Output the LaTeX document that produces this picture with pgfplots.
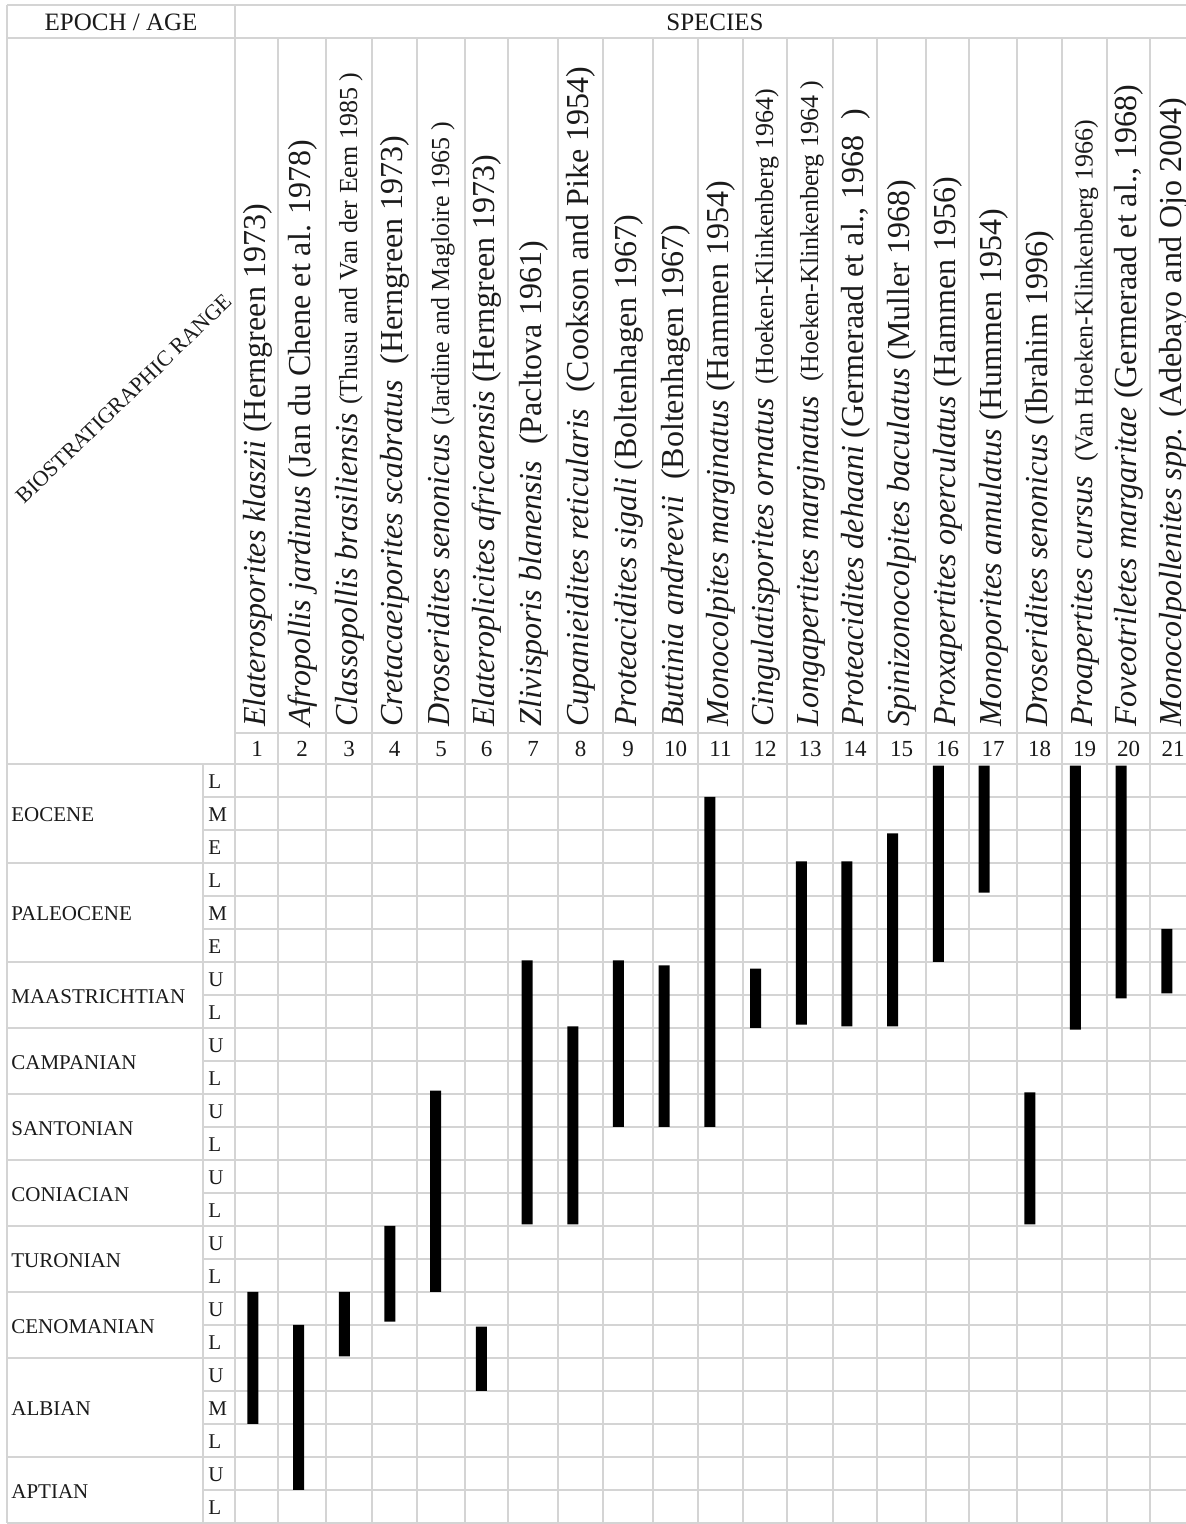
\documentclass[border=0pt]{standalone}
\usepackage{pgfplots}
\pgfplotsset{compat=1.18}
\usepackage{pgfplotstable}
\usepackage{fontspec}
\setmainfont{Liberation Serif}
\definecolor{gridc}{HTML}{D4D4D4}
\definecolor{txt}{HTML}{1A1A1A}

% species index, lower and upper limit of range (row units, 0 = base of Lower Aptian, 23 = top of Late Eocene)
\pgfplotstableread{
x lo hi
1 3.0 7.0
2 1.0 6.0
3 5.05 7.0
4 6.1 9.0
5 7.0 13.1
6 4.0 5.95
7 9.05 17.05
8 9.05 15.05
9 12.0 17.05
10 12.0 16.9
11 12.0 22.0
12 15.0 16.8
13 15.1 20.05
14 15.05 20.05
15 15.05 20.9
16 17.0 22.95
17 19.1 22.95
18 9.05 13.05
19 14.95 22.95
20 15.9 22.95
21 16.05 18.0
}\ranges

\newcommand{\spn}[4]{%
  \node[rotate=90, anchor=base west, inner sep=0pt, text=txt,
        font=\fontsize{16}{18}\selectfont] at (#1+8,727)
        {\textit{#2} {\fontsize{#4}{18}\selectfont #3}};}

\begin{document}
\begin{tikzpicture}
\begin{scope}[x=0.5pt,y=-0.5pt,shift={(0,762pt)}]
  \tikzset{gl/.style={draw=gridc, line width=1.4pt}}
  % frame and header lines
  \draw[gl] (7,5) -- (1186,5);
  \draw[gl] (7,38) -- (1186,38);
  \draw[gl] (7,5) -- (7,1523);
  \draw[gl] (235,5) -- (235,1523);
  \draw[gl] (203,764) -- (203,1523);
  \foreach \xx in {278,326,372,417,465,508,558,603,653,698,743,787,833,877,926,969,1017,1062,1107,1150}
    \draw[gl] (\xx,38) -- (\xx,1523);
  \draw[gl] (235,733) -- (1186,733);
  \draw[gl] (7,764) -- (1186,764);
  \foreach \i in {3,6,8,10,12,14,16,18,21,23}
    \draw[gl] (7,{764+33*\i}) -- (1186,{764+33*\i});
  \foreach \i in {1,2,4,5,7,9,11,13,15,17,19,20,22}
    \draw[gl] (203,{764+33*\i}) -- (1186,{764+33*\i});

  % header texts
  \node[text=txt, font=\fontsize{12.5}{15}\selectfont] at (121,22) {EPOCH / AGE};
  \node[text=txt, font=\fontsize{12.5}{15}\selectfont] at (715,22) {SPECIES};
  \node[text=txt, rotate=44, inner sep=0pt, font=\fontsize{11}{13}\selectfont] at (124,399) {BIOSTRATIGRAPHIC RANGE};

  % species names
  \spn{257}{Elaterosporites klaszii}{(Herngreen 1973)}{16}
  \spn{302}{Afropollis jardinus}{(Jan du Chene et al. 1978)}{16}
  \spn{349}{Classopollis brasiliensis}{(Thusu and Van der Eem 1985 )}{13}
  \spn{394.5}{Cretacaeiporites scabratus}{\ (Herngreen 1973)}{16}
  \spn{441}{Droseridites senonicus}{(Jardine and Magloire 1965 )}{13}
  \spn{486.5}{Elateroplicites africaensis}{(Herngreen 1973)}{16}
  \spn{533}{Zlivisporis blanensis}{\ (Pacltova 1961)}{16}
  \spn{580.5}{Cupanieidites reticularis}{\ (Cookson and Pike 1954)}{16}
  \spn{628}{Proteacidites sigali}{(Boltenhagen 1967)}{16}
  \spn{675.5}{Buttinia andreevii}{\ (Boltenhagen 1967)}{16}
  \spn{720.5}{Monocolpites marginatus}{(Hammen 1954)}{16}
  \spn{765}{Cingulatisporites ornatus}{\ (Hoeken-Klinkenberg 1964)}{13}
  \spn{810}{Longapertites marginatus}{\ (Hoeken-Klinkenberg 1964 )}{13}
  \spn{855}{Proteacidites dehaani}{(Germeraad et al., 1968 \ )}{16}
  \spn{901.5}{Spinizonocolpites baculatus}{(Muller 1968)}{16}
  \spn{947.5}{Proxapertites operculatus}{(Hammen 1956)}{16}
  \spn{993}{Monoporites annulatus}{(Hummen 1954)}{16}
  \spn{1039.5}{Droseridites senonicus}{(Ibrahim 1996)}{16}
  \spn{1084.5}{Proapertites cursus}{\ (Van Hoeken-Klinkenberg 1966)}{13}
  \spn{1128.5}{Foveotriletes margaritae}{(Germeraad et al., 1968)}{16}
  \spn{1173}{Monocolpollenites spp.}{(Adebayo and Ojo 2004)}{16}

  % species numbers
  \foreach \cx/\n in {257/1,302/2,349/3,394.5/4,441/5,486.5/6,533/7,580.5/8,628/9,675.5/10,720.5/11,765/12,810/13,855/14,901.5/15,947.5/16,993/17,1039.5/18,1084.5/19,1128.5/20,1173/21}
    \node[text=txt, font=\fontsize{11.5}{13}\selectfont] at (\cx,749) {\n};

  % epochs / ages
  \foreach \yy/\nm in {815/EOCENE,914/PALEOCENE,997/MAASTRICHTIAN,1063/CAMPANIAN,1129/SANTONIAN,1195/CONIACIAN,1261/TURONIAN,1327/CENOMANIAN,1409/ALBIAN,1492/APTIAN}
    \node[anchor=west, inner sep=0pt, text=txt, font=\fontsize{10.5}{12}\selectfont] at (11,\yy) {\nm};

  % sub-divisions
  \foreach \i/\l in {0/L,1/M,2/E,3/L,4/M,5/E,6/U,7/L,8/U,9/L,10/U,11/L,12/U,13/L,14/U,15/L,16/U,17/L,18/U,19/M,20/L,21/U,22/L}
    \node[anchor=west, inner sep=0pt, text=txt, font=\fontsize{10.5}{12}\selectfont] at (208,{764+33*\i+18}) {\l};
\end{scope}

\begin{axis}[
  scale only axis, width=593pt, height=762pt,
  xmin=-4.664, xmax=21.288, ymin=-0.0303, ymax=46.15,
  hide axis, clip=false,
  ybar stacked, bar width=5.5pt]
\addplot[draw=none, fill=none, xshift=-3pt] table[x=x, y=lo] {\ranges};
\addplot[draw=none, fill=black, xshift=-3pt] table[x=x, y expr=\thisrow{hi}-\thisrow{lo}] {\ranges};
\end{axis}

\pgfresetboundingbox
\useasboundingbox (0,0) rectangle (593pt,762pt);
\end{tikzpicture}
\end{document}
